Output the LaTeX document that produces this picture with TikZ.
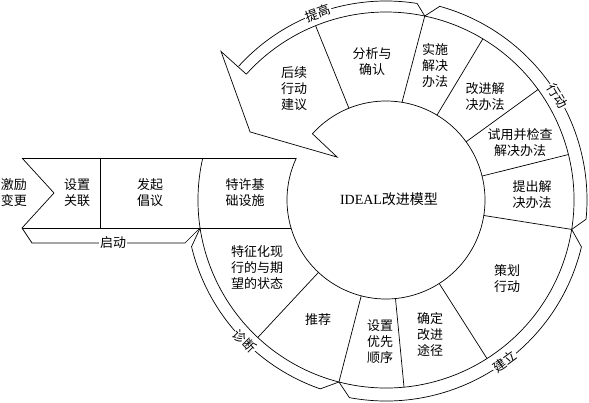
\documentclass[tikz,border=0pt]{standalone}
\usepackage{fontspec}
\setmainfont{Liberation Serif}
\newfontfamily\cjk{Noto Sans CJK SC}
\usetikzlibrary{calc}
\tikzset{
  lbl/.style={font=\cjk\fontsize{13}{16}\selectfont, align=center, inner sep=0pt},
  bandlbl/.style={font=\cjk\fontsize{13}{16}\selectfont, fill=white, inner sep=1pt},
  ln/.style={line width=0.7pt, black}
}
\begin{document}
\begin{tikzpicture}[x=1pt,y=1pt]
\useasboundingbox (0,0) rectangle (589,402);
% horizontal band
\draw[ln] (22,244) -- (54,209) -- (22,174);
\draw[ln] (22,244) -- (296.4,244);
\draw[ln] (22,174) -- (291,174);
\draw[ln] (100,244) -- (100,174);
\draw[ln] (22,174) -- (32,159) -- (185,159) -- (200,174);
\node[bandlbl] (qd) at (113,159) {启动};
\begin{scope}[shift={(386,202)}]
  % outer ring circle
  \draw[ln] (167.1:188) arc[start angle=167.1, end angle=498, radius=188];
  % inner circle with arrow notch
  \draw[ln] (154.9:99) arc[start angle=154.9, end angle=498, radius=99]
     -- (138.7:65) -- (153.4:152) -- (138:222) -- (138:188);
  % segment boundaries
  \foreach \a in {227,255.5,275.5,302.5,351,14,36,59,112}
    \draw[ln] (\a:99) -- (\a:188);
  \draw[ln] (80.7:99) -- (78.1:188);
  % phase bands
  \draw[ln] (188.6:188) -- (193.5:200) arc[start angle=193.5, end angle=250.8, radius=200] -- (255.5:188);
  \draw[ln] (255.5:188) -- (259.5:201) arc[start angle=259.5, end angle=346.5, radius=201] -- (351:188);
  \draw[ln] (351:188) -- (354.5:201) arc[start angle=354.5, end angle=434.5, radius=201] -- (438.1:188);
  \draw[ln] (78.1:188) -- (81:199) arc[start angle=81, end angle=137.8, radius=199];
  \node[bandlbl, rotate=315] (zd) at (225:200) {诊断};
  \node[bandlbl, rotate=36.3] (jl) at (306.3:201) {建立};
  \node[bandlbl, rotate=-58.7] (xd) at (31.3:201) {行动};
  \node[bandlbl, rotate=20] (tg) at (110:199) {提高};
\end{scope}
% texts
\node[lbl] (t1) at (14,209) {激励\\变更};
\node[lbl] (t2) at (77,209) {设置\\关联};
\node[lbl] (t3) at (150,209) {发起\\倡议};
\node[lbl] (t4) at (245,209) {特许基\\础设施};
\node[inner sep=0pt, font=\fontsize{14}{16}\selectfont] (ctr) at (389,203) {IDEAL{\cjk 改进模型}};
\node[lbl] (t5) at (294,313) {后续\\行动\\建议};
\node[lbl] (t6) at (372,340) {分析与\\确认};
\node[lbl] (t7) at (435,336) {实施\\解决\\办法};
\node[lbl] (t8) at (485,305) {改进解\\决办法};
\node[lbl] (t9) at (520,259) {试用并检查\\解决办法};
\node[lbl] (t10) at (532,207) {提出解\\决办法};
\node[lbl] (t11) at (507,123) {策划\\行动};
\node[lbl] (t12) at (430,67) {确定\\改进\\途径};
\node[lbl] (t13) at (380,60) {设置\\优先\\顺序};
\node[lbl] (t14) at (318,82) {推荐};
\node[lbl] (t15) at (257,134) {特征化现\\行的与期\\望的状态};
\end{tikzpicture}
\end{document}
